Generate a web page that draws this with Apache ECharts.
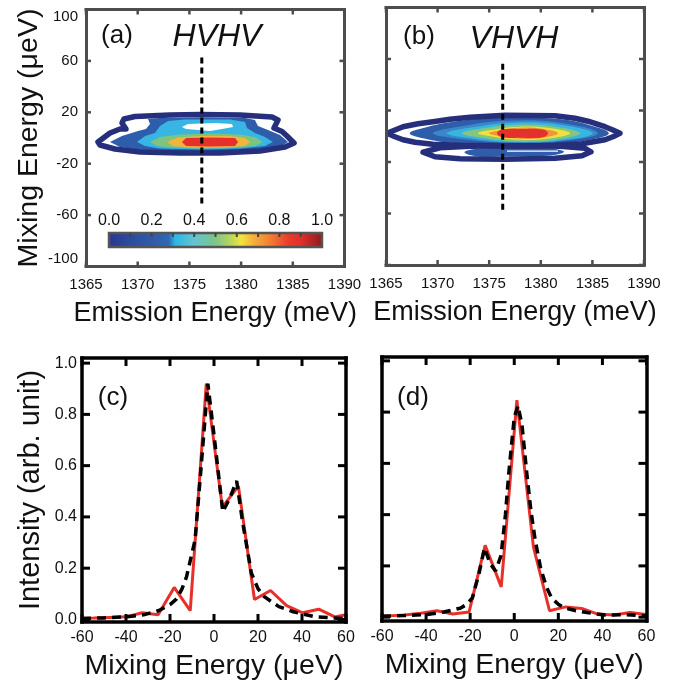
<!DOCTYPE html>
<html>
<head>
<meta charset="utf-8">
<script src="https://cdn.jsdelivr.net/npm/echarts@6/dist/echarts.min.js"></script>
<style>html,body{margin:0;padding:0;background:#fff;}#c{width:689px;height:686px;}</style>
</head>
<body>
<div id="c"></div>
<script>
// ---------- data ----------
const emissionTicks = [1365, 1370, 1375, 1380, 1385, 1390];
const mixTicksTop = [-100, -60, -20, 20, 60, 100];
const mixTicksBottom = [-60, -40, -20, 0, 20, 40, 60];
const intensityTicks = [0, 0.2, 0.4, 0.6, 0.8, 1.0];
const cbarTicks = [0.1, 0.2, 0.3, 0.4, 0.5, 0.6, 0.7, 0.8, 0.9];
const cbarLimits = [0, 1];

// axis ranges
const emissionRange = [1365, 1390];
const mixRangeTop = [-100, 100];
const mixRangeBottom = [-60, 60];
const intensityRangeC = [-0.01, 1.02];
const intensityRangeD = [-0.015, 1.015];

// (a) HVHV contour bands [emission meV, mixing ueV]
const a_navy = [[1366.16,-3.11],[1367.32,3.89],[1368.29,7.00],[1368.87,7.00],[1368.48,11.67],[1368.67,14.79],[1369.74,16.73],[1373.12,17.90],[1376.03,18.29],[1379.89,17.90],[1382.99,16.34],[1383.57,14.01],[1383.18,7.78],[1383.96,5.06],[1384.44,1.56],[1385.12,-3.89],[1384.25,-7.00],[1381.83,-10.12],[1377.96,-11.68],[1374.09,-11.68],[1370.22,-10.90],[1367.80,-8.56],[1366.35,-5.45]];
const a_blue = [[1367.32,-3.11],[1368.48,1.56],[1370.03,5.45],[1370.80,7.00],[1371.19,10.90],[1371.00,14.79],[1372.16,15.57],[1376.03,15.95],[1380.38,15.57],[1381.34,14.01],[1381.63,9.34],[1382.60,6.22],[1383.76,2.34],[1384.54,-3.11],[1383.76,-7.00],[1381.34,-9.34],[1377.96,-10.12],[1374.09,-10.12],[1370.22,-9.34],[1368.29,-7.00]];
const a_cyan = [[1369.93,-3.11],[1370.71,1.56],[1371.67,3.89],[1372.16,9.34],[1372.93,13.23],[1374.57,14.40],[1378.93,14.40],[1380.38,12.45],[1380.57,7.78],[1381.34,3.89],[1382.31,0.78],[1383.08,-3.11],[1382.31,-6.23],[1379.89,-8.17],[1376.03,-8.95],[1372.16,-8.17],[1370.71,-6.23]];
const a_hole = [[1374.28,8.56],[1374.86,10.90],[1377.48,11.67],[1379.12,10.90],[1379.22,8.56],[1378.15,7.00],[1376.99,5.45],[1375.83,6.22],[1374.67,7.00]];
const a_green = [[1371.19,-3.11],[1372.16,0.78],[1374.09,2.73],[1376.99,3.50],[1379.89,2.73],[1381.34,0.78],[1382.12,-3.11],[1381.34,-6.23],[1378.93,-7.78],[1376.03,-8.17],[1373.12,-7.39],[1371.87,-6.23]];
const a_yellow = [[1372.83,-3.11],[1373.90,0.39],[1376.03,1.56],[1378.93,1.56],[1380.38,0.00],[1380.86,-3.11],[1380.38,-6.23],[1377.96,-7.39],[1375.06,-7.39],[1373.41,-6.23]];
const a_red = [[1374.28,-3.11],[1374.67,0.00],[1376.99,0.39],[1379.41,0.00],[1379.70,-3.11],[1379.41,-6.23],[1376.99,-6.61],[1374.67,-6.23]];
const a_cut = [[1376.2,-51],[1376.2,64.5]];

// (b) VHVH contour bands
const b_navy1 = [[1365.10,2.33],[1365.87,4.90],[1366.65,7.39],[1368.10,9.73],[1369.55,11.29],[1371.20,13.23],[1373.14,14.79],[1376.53,16.34],[1381.38,15.95],[1383.31,14.01],[1384.57,11.67],[1386.22,7.39],[1386.99,4.90],[1387.67,2.33],[1386.99,-0.38],[1386.22,-2.72],[1383.99,-5.84],[1381.38,-7.00],[1376.53,-7.39],[1372.17,-7.00],[1369.55,-6.23],[1367.81,-4.66],[1366.65,-2.72],[1365.87,-0.38]];
const b_navy2 = [[1368.59,-12.45],[1370.23,-8.95],[1373.14,-7.78],[1376.53,-7.39],[1381.86,-7.78],[1384.28,-9.33],[1384.86,-12.06],[1383.99,-15.17],[1381.38,-17.12],[1376.53,-17.89],[1372.17,-17.51],[1369.75,-15.95]];
const b_blue = [[1367.30,2.34],[1369.00,7.20],[1371.38,11.10],[1376.08,14.80],[1381.72,13.40],[1384.60,9.00],[1386.60,2.34],[1384.60,-3.00],[1381.72,-5.40],[1376.08,-6.20],[1371.38,-5.00],[1369.00,-2.30]];
const b_lightblue = [[1369.55,2.34],[1372.75,8.40],[1376.75,12.00],[1381.55,10.80],[1385.54,2.34],[1381.55,-4.10],[1376.75,-5.10],[1372.75,-2.60]];
const b_cyan = [[1370.91,2.34],[1373.74,7.40],[1377.28,10.50],[1381.52,9.40],[1385.06,2.34],[1381.52,-3.60],[1377.28,-4.60],[1373.74,-2.10]];
const b_green = [[1372.36,2.34],[1374.65,6.40],[1377.51,9.00],[1380.94,8.00],[1383.80,2.34],[1380.94,-3.10],[1377.51,-4.00],[1374.65,-1.60]];
const b_yellow = [[1373.91,2.34],[1375.70,5.38],[1377.93,7.40],[1380.60,6.62],[1382.83,2.34],[1380.60,-1.94],[1377.93,-2.72],[1375.70,-0.70]];
const b_orange = [[1374.98,2.34],[1376.32,4.91],[1377.98,6.62],[1379.99,6.00],[1381.67,2.34],[1379.99,-1.32],[1377.98,-1.94],[1376.32,-0.23]];
const b_red = [[1375.76,2.34],[1376.24,5.29],[1377.98,5.68],[1380.21,5.29],[1380.70,2.34],[1380.21,-0.77],[1377.98,-1.16],[1376.24,-0.77]];
const b_blue2 = [[1372.60,-12.45],[1373.62,-9.90],[1376.53,-9.10],[1380.89,-9.50],[1382.25,-12.06],[1380.89,-15.00],[1376.53,-15.80],[1373.62,-15.30]];
const b_streak = [[1376.72,-11.05],[1381.67,-11.05],[1381.67,-11.98],[1376.72,-11.98]];
const b_cut = [[1376.31,-57],[1376.31,57.8]];

// (c) HVHV cut: measured (red) and fit (dashed)
const c_mix = [-60, -54.6, -47.3, -40, -32.7, -25.4, -18.1, -10.8, -3.5, 3.8, 11.1, 18.4, 25.7, 33, 40.3, 47.6, 54.9, 60];
const c_meas = [0.005, 0.006, 0.008, 0.01, 0.026, 0.018, 0.125, 0.034, 0.92, 0.438, 0.52, 0.078, 0.113, 0.054, 0.026, 0.04, 0.01, 0.018];
const c_fitMix = [-60, -50, -40, -32, -25, -20, -17, -14.5, -12.5, -10.5, -8.6, -6, -2.8, 0, 4, 7, 10.3, 13, 17, 20, 22.7, 26, 29.5, 36, 46, 60];
const c_fit = [0.004, 0.006, 0.01, 0.018, 0.035, 0.058, 0.08, 0.12, 0.166, 0.24, 0.31, 0.58, 0.92, 0.72, 0.42, 0.47, 0.54, 0.38, 0.18, 0.12, 0.09, 0.07, 0.05, 0.03, 0.01, 0.003];

// (d) VHVH cut
const d_mix = [-60, -57, -49.7, -42.4, -35.1, -27.8, -20.5, -13.2, -5.9, 1.2, 8.7, 16, 23.3, 30.6, 37.9, 45.2, 52.5, 59.8];
const d_meas = [0.004, 0.005, 0.008, 0.015, 0.025, 0.012, 0.02, 0.28, 0.118, 0.847, 0.274, 0.025, 0.04, 0.034, 0.012, 0.008, 0.018, 0.01];
const d_fitMix = [-60, -50, -40, -32, -27, -24.5, -21.5, -19, -16, -13.5, -11, -8.5, -6, -4, -2.5, 0, 1.7, 3.5, 5.7, 7.5, 9.5, 12, 14.5, 17, 20, 23, 28, 33, 41, 50, 60];
const d_fit = [0.004, 0.006, 0.01, 0.02, 0.03, 0.035, 0.05, 0.075, 0.17, 0.27, 0.21, 0.18, 0.24, 0.4, 0.56, 0.78, 0.825, 0.75, 0.56, 0.42, 0.3, 0.19, 0.12, 0.074, 0.05, 0.036, 0.025, 0.018, 0.008, 0.01, 0.005];

// ---------- styles ----------
const FONT = '"Liberation Sans", Arial, Helvetica, sans-serif';
const GRAY = '#4d4d4d';
const NAVY = '#262f7c';
const zip = (xs, ys) => xs.map((x, i) => [x, ys[i]]);

function poly(pts, xi, yi, style, smooth, z) {
  return {
    type: 'custom', xAxisIndex: xi, yAxisIndex: yi, data: [pts[0]], silent: true, clip: true, z: z || 2,
    renderItem: function (params, api) {
      return { type: 'polygon', shape: { points: pts.map(p => api.coord(p)), smooth: smooth || 0 }, style: style };
    }
  };
}
const fillS = c => ({ fill: c, stroke: null });
const lineS = (c, w) => ({ fill: 'none', stroke: c, lineWidth: w, lineJoin: 'round' });

const topLine = { show: true, onZero: false, lineStyle: { color: GRAY, width: 3, cap: 'square' } };
const botLine = { show: true, onZero: false, lineStyle: { color: '#000', width: 3.5, cap: 'square' } };
const noTick = { show: false };
const topLabel = { fontSize: 15, color: '#111', fontFamily: FONT, margin: 11, showMinLabel: true, showMaxLabel: true, formatter: v => String(v) };
const botLabel = { fontSize: 16, color: '#111', fontFamily: FONT, margin: 8, showMinLabel: true, showMaxLabel: true, formatter: v => String(v) };
const nameStyle = { fontSize: 27, color: '#111', fontFamily: FONT };
const mixNameStyle = { fontSize: 28.5, color: '#111', fontFamily: FONT };

function xAxisCfg(gi, pos, range, interval, opts) {
  return Object.assign({
    type: 'value', gridIndex: gi, position: pos, min: range[0], max: range[1], interval: interval, z: 8,
    splitLine: { show: false }, axisTick: noTick
  }, opts);
}

const xAxes = [
  xAxisCfg(0, 'bottom', emissionRange, 5, { axisLine: topLine, axisLabel: topLabel, name: 'Emission Energy (meV)', nameLocation: 'middle', nameGap: 34, nameTextStyle: nameStyle }),
  xAxisCfg(0, 'top', emissionRange, 5, { axisLine: topLine, axisLabel: { show: false } }),
  xAxisCfg(1, 'bottom', emissionRange, 5, { axisLine: topLine, axisLabel: topLabel, name: 'Emission Energy (meV)', nameLocation: 'middle', nameGap: 34, nameTextStyle: nameStyle }),
  xAxisCfg(1, 'top', emissionRange, 5, { axisLine: topLine, axisLabel: { show: false } }),
  xAxisCfg(2, 'bottom', mixRangeBottom, 20, { axisLine: botLine, axisLabel: botLabel, name: 'Mixing Energy (\u03bceV)', nameLocation: 'middle', nameGap: 30, nameTextStyle: mixNameStyle }),
  xAxisCfg(2, 'top', mixRangeBottom, 20, { axisLine: botLine, axisLabel: { show: false } }),
  xAxisCfg(3, 'bottom', mixRangeBottom, 20, { axisLine: botLine, axisLabel: botLabel, name: 'Mixing Energy (\u03bceV)', nameLocation: 'middle', nameGap: 30, nameTextStyle: mixNameStyle }),
  xAxisCfg(3, 'top', mixRangeBottom, 20, { axisLine: botLine, axisLabel: { show: false } }),
  xAxisCfg(4, 'top', cbarLimits, 0.1, {
    axisLine: { show: false, onZero: false },
    axisLabel: { fontSize: 16, color: '#111', fontFamily: FONT, margin: 4, showMinLabel: true, showMaxLabel: true,
      formatter: v => (Math.round(v * 10) % 2 === 0 ? v.toFixed(1) : '') }
  })
];

function yAxisCfg(gi, pos, range, labelVals, opts) {
  return Object.assign({
    type: 'value', gridIndex: gi, position: pos, min: range[0], max: range[1], z: 8,
    splitLine: { show: false }, axisTick: noTick
  }, opts, {
    axisLabel: Object.assign({ customValues: labelVals }, opts.axisLabel)
  });
}
const yAxes = [
  yAxisCfg(0, 'left', mixRangeTop, mixTicksTop, { axisLine: topLine, axisLabel: Object.assign({}, topLabel, { margin: 8, verticalAlignMaxLabel: 'top', verticalAlignMinLabel: 'bottom' }), name: 'Mixing Energy (\u03bceV)', nameLocation: 'middle', nameGap: 40, nameRotate: 90, nameTextStyle: mixNameStyle }),
  yAxisCfg(0, 'right', mixRangeTop, mixTicksTop, { axisLine: topLine, axisLabel: { show: false } }),
  yAxisCfg(1, 'left', mixRangeTop, mixTicksTop, { axisLine: topLine, axisLabel: { show: false } }),
  yAxisCfg(1, 'right', mixRangeTop, mixTicksTop, { axisLine: topLine, axisLabel: { show: false } }),
  yAxisCfg(2, 'left', intensityRangeC, intensityTicks, { axisLine: botLine, axisLabel: Object.assign({}, botLabel, { margin: 5, formatter: v => v.toFixed(1) }), name: 'Intensity (arb. unit)', nameLocation: 'middle', nameGap: 37, nameRotate: 90, nameTextStyle: { fontSize: 29, color: '#111', fontFamily: FONT } }),
  yAxisCfg(2, 'right', intensityRangeC, intensityTicks, { axisLine: botLine, axisLabel: { show: false } }),
  yAxisCfg(3, 'left', intensityRangeD, intensityTicks, { axisLine: botLine, axisLabel: { show: false } }),
  yAxisCfg(3, 'right', intensityRangeD, intensityTicks, { axisLine: botLine, axisLabel: { show: false } }),
  { type: 'value', gridIndex: 4, min: cbarLimits[0], max: cbarLimits[1], show: false }
];

const grids = [
  { left: 86, top: 9.5, width: 258.5, height: 257 },
  { left: 386, top: 7.5, width: 258, height: 257.5 },
  { left: 82, top: 358, width: 264, height: 264 },
  { left: 382, top: 357, width: 264.5, height: 264 },
  { left: 109, top: 233, width: 213, height: 14, show: true, borderColor: '#555', borderWidth: 2.5, backgroundColor: 'transparent', z: 5 }
];

const cbarStops = [
  { offset: 0, color: '#293891' }, { offset: 0.1, color: '#2c4b9f' }, { offset: 0.28, color: '#3067b3' },
  { offset: 0.31, color: '#2bb7e8' }, { offset: 0.4, color: '#64c4cf' }, { offset: 0.49, color: '#78c48e' },
  { offset: 0.57, color: '#b8d65a' }, { offset: 0.62, color: '#f0e43f' }, { offset: 0.68, color: '#f6ae39' },
  { offset: 0.76, color: '#f37c33' }, { offset: 0.84, color: '#ea3e2c' }, { offset: 0.9, color: '#e2302a' },
  { offset: 1, color: '#8a1c20' }
];

const series = [
  // (a)
  poly(a_blue, 0, 0, fillS('#2d5dab')),
  poly(a_cyan, 0, 0, fillS('#38b6e3')),
  poly(a_hole, 0, 0, fillS('#ffffff')),
  poly(a_green, 0, 0, fillS('#7dc480')),
  poly(a_yellow, 0, 0, fillS('#f3b43c')),
  poly(a_red, 0, 0, fillS('#e4312b')),
  poly(a_navy, 0, 0, lineS(NAVY, 5.5), 0, 3),
  { type: 'line', xAxisIndex: 0, yAxisIndex: 0, data: a_cut, symbol: 'none', silent: true, z: 6,
    lineStyle: { color: '#000', width: 3, type: [6, 4] } },
  // colorbar
  { type: 'custom', xAxisIndex: 8, yAxisIndex: 8, data: [cbarLimits], silent: true, z: 4,
    renderItem: function (params, api) {
      const p0 = api.coord([cbarLimits[0], cbarLimits[0]]);
      const p1 = api.coord([cbarLimits[1], cbarLimits[1]]);
      return { type: 'rect', shape: { x: p0[0], y: p1[1], width: p1[0] - p0[0], height: p0[1] - p1[1] },
        style: { fill: new echarts.graphic.LinearGradient(0, 0, 1, 0, cbarStops) } };
    } },
  // (b)
  poly(b_blue, 2, 2, fillS('#2d5dab'), 0.4),
  poly(b_lightblue, 2, 2, fillS('#3a86c6'), 0.4),
  poly(b_cyan, 2, 2, fillS('#38b6e3'), 0.4),
  poly(b_green, 2, 2, fillS('#86c67a'), 0.4),
  poly(b_yellow, 2, 2, fillS('#eee23f'), 0.4),
  poly(b_orange, 2, 2, fillS('#f29436'), 0.4),
  poly(b_red, 2, 2, fillS('#e4312b'), 0.4),
  poly(b_blue2, 2, 2, fillS('#2d5dab'), 0.4),
  poly(b_streak, 2, 2, fillS('#ffffff')),
  poly(b_navy1, 2, 2, lineS(NAVY, 5.5), 0, 3),
  poly(b_navy2, 2, 2, lineS(NAVY, 5.5), 0, 3),
  { type: 'line', xAxisIndex: 2, yAxisIndex: 2, data: b_cut, symbol: 'none', silent: true, z: 6,
    lineStyle: { color: '#000', width: 3, type: [6, 4] } },
  // (c)
  { type: 'line', xAxisIndex: 4, yAxisIndex: 4, data: zip(c_mix, c_meas), symbol: 'none', z: 3,
    lineStyle: { color: '#e8302a', width: 3 } },
  { type: 'line', xAxisIndex: 4, yAxisIndex: 4, data: zip(c_fitMix, c_fit), symbol: 'none', z: 4,
    lineStyle: { color: '#000', width: 3.5, type: [9, 6] } },
  // (d)
  { type: 'line', xAxisIndex: 6, yAxisIndex: 6, data: zip(d_mix, d_meas), symbol: 'none', z: 3,
    lineStyle: { color: '#e8302a', width: 3 } },
  { type: 'line', xAxisIndex: 6, yAxisIndex: 6, data: zip(d_fitMix, d_fit), symbol: 'none', z: 4,
    lineStyle: { color: '#000', width: 3.5, type: [9, 6] } }
];

const txt = (x, y, t, font) => ({ type: 'text', x: x, y: y, z: 20, silent: true,
  style: { text: t, font: font, fill: '#111', align: 'center', verticalAlign: 'middle' } });
const labels = [
  txt(117, 36, '(a)', '26px ' + FONT),
  txt(217, 37, 'HVHV', 'italic 32px ' + FONT),
  txt(419, 37, '(b)', '26px ' + FONT),
  txt(514, 39, 'VHVH', 'italic 32px ' + FONT),
  txt(113, 398, '(c)', '26px ' + FONT),
  txt(413, 398, '(d)', '26px ' + FONT)
];

const chart = echarts.init(document.getElementById('c'), null, { renderer: 'canvas' });
chart.setOption({
  animation: false,
  backgroundColor: '#fff',
  grid: grids,
  xAxis: xAxes,
  yAxis: yAxes,
  series: series,
  graphic: labels
});

// pixel position of an axis value, through the library's axis scale
function axisPx(kind, idx, v) {
  let p = null;
  try {
    const f = {}; f[kind + 'AxisIndex'] = idx;
    p = chart.convertToPixel(f, v);
  } catch (e) { p = null; }
  if (typeof p !== 'number' || !isFinite(p)) {
    const ax = chart.getModel().getComponent(kind + 'Axis', idx).axis;
    p = ax.toGlobalCoord(ax.dataToCoord(v));
  }
  return p;
}

// inward tick marks on all four frame edges
const tickEls = [];
function tickLine(x1, y1, x2, y2, color, width) {
  tickEls.push({ type: 'line', z: 30, silent: true, shape: { x1: x1, y1: y1, x2: x2, y2: y2 },
    style: { stroke: color, lineWidth: width, fill: null } });
}
function addTicks(xi, yi, xVals, yVals, xRange, yRange, len, color, width, xBottom) {
  try {
    const yTop = axisPx('y', yi, yRange[1]), yBot = axisPx('y', yi, yRange[0]);
    const xLeft = axisPx('x', xi, xRange[0]), xRight = axisPx('x', xi, xRange[1]);
    xVals.forEach(v => {
      const x = axisPx('x', xi, v);
      tickLine(x, yTop, x, yTop + len, color, width);
      if (xBottom) tickLine(x, yBot, x, yBot - len, color, width);
    });
    yVals.forEach(v => {
      const y = axisPx('y', yi, v);
      tickLine(xLeft, y, xLeft + len, y, color, width);
      tickLine(xRight, y, xRight - len, y, color, width);
    });
  } catch (e) { /* keep chart even if ticks fail */ }
}
addTicks(0, 0, emissionTicks, mixTicksTop, emissionRange, mixRangeTop, 5, GRAY, 2.5, true);
addTicks(2, 2, emissionTicks, mixTicksTop, emissionRange, mixRangeTop, 5, GRAY, 2.5, true);
addTicks(4, 4, mixTicksBottom, intensityTicks, mixRangeBottom, intensityRangeC, 8, '#000', 3, true);
addTicks(6, 6, mixTicksBottom, intensityTicks, mixRangeBottom, intensityRangeD, 8, '#000', 3, true);
addTicks(8, 8, cbarTicks, [], cbarLimits, cbarLimits, 4, '#444', 2, false);

chart.setOption({ graphic: labels.concat(tickEls) });
</script>
</body>
</html>
